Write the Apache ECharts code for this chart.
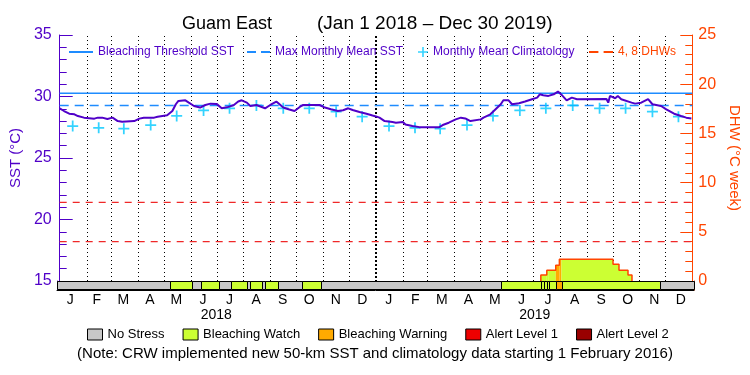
<!DOCTYPE html>
<html><head><meta charset="utf-8">
<script src="https://cdn.jsdelivr.net/npm/echarts@6/dist/echarts.min.js"></script>
<style>html,body{margin:0;padding:0;background:#fff}#c{width:750px;height:375px}</style>
</head><body><div id="c"></div>
<script>
// ---------- data ----------
const monthLabels = ['J','F','M','A','M','J','J','A','S','O','N','D','J','F','M','A','M','J','J','A','S','O','N','D'];
const yearLabels = ['2018','2019'];
const monthStartDays = [31,59,90,120,151,181,212,243,273,304,334,365,396,424,455,485,516,546,577,608,638,669,699];
const yearStartDay = 365;

const sstDays = [0,5,11,17,21,28,40,44,49,55,61,67,72,86,92,97,109,113,124,130,134,137,145,149,155,162,168,174,181,187,193,201,206,210,216,220,227,237,243,250,254,258,264,271,277,281,300,306,313,321,327,333,338,346,354,361,365,369,375,384,388,396,399,407,415,438,442,449,457,463,468,474,486,489,497,503,509,512,518,522,530,537,545,551,554,558,564,570,575,579,585,591,597,631,633,635,641,644,648,660,664,671,679,684,694,700,709,717,723,729];
const sstValues = [29.04,28.82,28.6,28.55,28.41,28.28,28.2,28.28,28.28,28.17,28.28,28.0,27.95,28.0,28.2,28.28,28.28,28.36,28.47,28.82,29.37,29.64,29.69,29.5,29.23,29.1,29.31,29.42,29.4,29.04,29.12,29.31,29.59,29.69,29.5,29.23,29.31,29.04,29.31,29.59,29.35,29.1,28.96,28.82,29.15,29.31,29.31,29.1,28.96,28.82,28.88,29.04,28.9,28.74,28.6,28.45,28.38,28.28,28.0,27.92,27.87,27.92,27.73,27.6,27.51,27.51,27.68,27.87,28.14,28.28,28.22,28.0,28.14,28.28,28.55,28.96,29.37,29.69,29.69,29.37,29.45,29.59,29.78,29.91,30.18,30.1,30.05,30.18,30.4,30.15,29.69,29.91,29.78,29.8,29.5,30.05,29.86,30.05,29.78,29.5,29.42,29.5,29.78,29.37,29.23,28.96,28.6,28.41,28.28,28.22];

const climDays = [15,45,74,105,135,166,196,227,258,288,319,349,380,410,439,470,500,531,561,592,623,653,684,714];
const climValues = [27.6,27.45,27.38,27.68,28.42,28.87,29.04,29.27,29.04,29.04,28.77,28.36,27.6,27.45,27.38,27.68,28.42,28.87,29.04,29.27,29.04,29.04,28.77,28.36];

const bleachingThreshold = 30.27;
const maxMonthlyMean = 29.27;
const dhwLevels = [4, 8];

const dhwStepStart = [555.2, 562.1, 572.4, 576.6, 638.5, 645.4, 655.8];
const dhwStepEnd   = [562.1, 572.4, 576.6, 638.5, 645.4, 655.8, 660.4];
const dhwStepValue = [0.6, 1.1, 1.6, 2.2, 1.7, 1.1, 0.6];

const stressStart = [0,129,154.7,165,185.2,199.4,217.8,220.7,235,238,252.9,280.9,302.7,509.3,555.2,557.7,562.1,564.4,572.4,579,691.3];
const stressEnd   = [129,154.7,165,185.2,199.4,217.8,220.7,235,238,252.9,280.9,302.7,509.3,555.2,557.7,562.1,564.4,572.4,579,691.3,730];
const stressLevel = [0,1,0,1,0,1,0,1,0,1,0,1,0,1,1,1,1,1,2,1,0];

const levelNames = ['No Stress','Bleaching Watch','Bleaching Warning','Alert Level 1','Alert Level 2'];
const levelColors = ['#c8c8c8','#ccff33','#ffaa00','#ee0000','#990000'];

// ---------- styles ----------
const FONT = 'Liberation Sans';
const PURPLE = '#5000c8';
const ORANGE = '#ff4500';
const BLUE = '#1e8cff';
const CYAN = '#00c8ff';
const DHWRED = '#f02828';
const dashIcon = 'path://M0,0H9V2H0Z M14,0H23V2H14Z';
const solidIcon = 'path://M0,0H24V2H0Z';
const plusPath = 'path://M4.2,0H5.8V10H4.2Z M0,4.2H10V5.8H0Z';

// ---------- derived ----------
const sstData = sstDays.map((d, i) => [d, sstValues[i]]);
const climData = climDays.map((d, i) => [d, climValues[i]]);
const stressSegs = stressStart.map((s, i) => [s, stressEnd[i], stressLevel[i]]);

const dhwPieces = [];
dhwStepStart.forEach((s, i) => {
  const e = dhwStepEnd[i];
  stressSegs.forEach(seg => {
    const a = Math.max(s, seg[0]), b = Math.min(e, seg[1]);
    if (b > a) dhwPieces.push([a, b, dhwStepValue[i], seg[2]]);
  });
});
const dhwOutline = [[dhwStepStart[0], 0]];
dhwStepStart.forEach((s, i) => { dhwOutline.push([s, dhwStepValue[i]]); dhwOutline.push([dhwStepEnd[i], dhwStepValue[i]]); });
dhwOutline.push([dhwStepEnd[dhwStepEnd.length - 1], 0]);

const monthLineData = monthStartDays.map(d => [d, d === yearStartDay ? 1 : 0]);

const chart = echarts.init(document.getElementById('c'), null, { renderer: 'canvas' });

const stressSeries = levelNames.map((name, li) => ({
  type: 'custom', name, xAxisIndex: 1, yAxisIndex: 2,
  itemStyle: { color: levelColors[li], borderColor: '#000', borderWidth: 1 },
  encode: { x: [0, 1] },
  data: stressSegs.filter(s => s[2] === li),
  renderItem: (params, api) => {
    const p0 = api.coord([api.value(0), 1]);
    const p1 = api.coord([api.value(1), 0]);
    const x0 = Math.round(p0[0]) + 0.5, x1 = Math.round(p1[0]) + 0.5;
    const y0 = Math.round(p0[1]) + 0.5, y1 = Math.round(p1[1]) - 0.5;
    return { type: 'rect', shape: { x: x0, y: y0, width: x1 - x0, height: y1 - y0 },
      style: { fill: levelColors[li], stroke: '#000', lineWidth: 1 } };
  }
}));

const txt = (color, size) => ({ color, fontSize: size, fontFamily: FONT });
const titleStyle = (size) => ({ color: '#000', fontSize: size, fontWeight: 'normal', fontFamily: FONT });

const option = {
  animation: false,
  backgroundColor: '#fff',
  title: [
    { text: 'Guam East', left: 182, top: 15, padding: 0, textStyle: titleStyle(18) },
    { text: '(Jan 1 2018 \u2013 Dec 30 2019)', left: 317, top: 14, padding: 0, textStyle: titleStyle(19) },
    { text: '(Note: CRW implemented new 50-km SST and climatology data starting 1 February 2016)', left: 'center', top: 346, padding: 0, textStyle: titleStyle(15) }
  ],
  legend: [
    { data: [{ name: 'Bleaching Threshold SST', icon: solidIcon }], left: 69, top: 46, padding: 0, itemWidth: 24, itemHeight: 2, symbolKeepAspect: false, selectedMode: false, textStyle: txt(PURPLE, 12) },
    { data: [{ name: 'Max Monthly Mean SST', icon: dashIcon }], left: 247, top: 46, padding: 0, itemWidth: 23, itemHeight: 2, symbolKeepAspect: false, selectedMode: false, textStyle: txt(PURPLE, 12) },
    { data: [{ name: 'Monthly Mean Climatology', icon: plusPath }], left: 418, top: 46, padding: 0, itemWidth: 10, itemHeight: 10, symbolKeepAspect: false, selectedMode: false, textStyle: txt(PURPLE, 12) },
    { data: [{ name: '4, 8 DHWs', icon: dashIcon }], left: 589, top: 46, padding: 0, itemWidth: 24, itemHeight: 2, symbolKeepAspect: false, selectedMode: false, textStyle: txt(ORANGE, 12) },
    { data: levelNames.map(n => ({ name: n, icon: 'rect' })), left: 87, top: 328, padding: 0, itemWidth: 15, itemHeight: 11, itemGap: 18, selectedMode: false,
      itemStyle: { borderColor: '#000', borderWidth: 1 }, textStyle: txt('#000', 13) }
  ],
  grid: [
    { left: 57, right: 56, top: 35, bottom: 94 },
    { left: 57, right: 56, top: 281, height: 9 }
  ],
  xAxis: [
    { type: 'value', gridIndex: 0, min: 0, max: 730, position: 'top',
      axisLine: { show: true, lineStyle: { color: '#000', width: 1 } }, axisTick: { show: false }, axisLabel: { show: false }, splitLine: { show: false } },
    { type: 'value', gridIndex: 1, min: 0, max: 730, position: 'bottom',
      axisLine: { show: true, lineStyle: { color: '#000', width: 1 } }, axisTick: { show: false }, axisLabel: { show: false }, splitLine: { show: false } },
    { type: 'category', gridIndex: 1, data: monthLabels, position: 'bottom', boundaryGap: true,
      axisLine: { show: false }, axisTick: { show: false }, splitLine: { show: false },
      axisLabel: { interval: 0, margin: 3, ...txt('#000', 14) } },
    { type: 'category', gridIndex: 1, data: yearLabels, position: 'bottom', offset: 15, boundaryGap: true,
      axisLine: { show: false }, axisTick: { show: false }, splitLine: { show: false },
      axisLabel: { interval: 0, margin: 3, ...txt('#000', 14) } }
  ],
  yAxis: [
    { type: 'value', gridIndex: 0, min: 15, max: 35, interval: 5, position: 'left',
      axisLine: { show: true, lineStyle: { color: PURPLE, width: 1 } },
      axisTick: { show: true, inside: true, length: 13, lineStyle: { color: PURPLE } },
      minorTick: { show: true, splitNumber: 5, length: 7, lineStyle: { color: PURPLE } },
      axisLabel: { margin: 8, ...txt(PURPLE, 16) }, splitLine: { show: false },
      name: 'SST (°C)', nameLocation: 'middle', nameGap: 32, nameTextStyle: txt(PURPLE, 15) },
    { type: 'value', gridIndex: 0, min: 0, max: 25, interval: 5, position: 'right',
      axisLine: { show: true, lineStyle: { color: ORANGE, width: 1 } },
      axisTick: { show: true, inside: true, length: 12, lineStyle: { color: ORANGE } },
      minorTick: { show: true, splitNumber: 5, length: 7, lineStyle: { color: ORANGE } },
      axisLabel: { margin: 6, ...txt(ORANGE, 16) }, splitLine: { show: false },
      name: 'DHW (°C week)', nameLocation: 'middle', nameGap: 34, nameRotate: -90, nameTextStyle: txt(ORANGE, 15) },
    { type: 'value', gridIndex: 1, min: 0, max: 1, position: 'left',
      axisLine: { show: true, lineStyle: { color: PURPLE } }, axisTick: { show: false }, axisLabel: { show: false }, splitLine: { show: false } },
    { type: 'value', gridIndex: 1, min: 0, max: 1, position: 'right',
      axisLine: { show: true, lineStyle: { color: ORANGE } }, axisTick: { show: false }, axisLabel: { show: false }, splitLine: { show: false } }
  ],
  series: [
    { type: 'custom', name: 'month lines', xAxisIndex: 0, yAxisIndex: 0, encode: { x: 0 }, data: monthLineData, z: 0, silent: true,
      renderItem: (params, api) => {
        const top = api.coord([api.value(0), 35]);
        const bot = api.coord([api.value(0), 15]);
        const wide = api.value(1) === 1;
        const x = wide ? Math.round(top[0]) : Math.round(top[0]) + 0.5;
        return { type: 'line', shape: { x1: x, y1: Math.round(top[1]) + 1, x2: x, y2: Math.round(bot[1]) },
          style: { stroke: '#000', lineWidth: wide ? 2 : 1, lineDash: wide ? [2, 2] : [1, 3] } };
      } },
    { type: 'custom', name: 'DHW fill', xAxisIndex: 0, yAxisIndex: 1, encode: { x: [0, 1], y: 2 }, data: dhwPieces, z: 1,
      renderItem: (params, api) => {
        const p0 = api.coord([api.value(0), api.value(2)]);
        const p1 = api.coord([api.value(1), 0]);
        return { type: 'rect', shape: { x: p0[0], y: p0[1], width: p1[0] - p0[0], height: p1[1] - p0[1] },
          style: { fill: levelColors[api.value(3)] } };
      } },
    { type: 'line', name: 'DHW', xAxisIndex: 0, yAxisIndex: 1, data: dhwOutline, symbol: 'none', z: 2,
      lineStyle: { color: ORANGE, width: 1.5 }, itemStyle: { color: ORANGE } },
    { type: 'line', name: 'Bleaching Threshold SST', xAxisIndex: 0, yAxisIndex: 0, data: [[0, bleachingThreshold], [730, bleachingThreshold]], symbol: 'none', z: 3,
      lineStyle: { color: BLUE, width: 1.5 }, itemStyle: { color: BLUE } },
    { type: 'line', name: 'Max Monthly Mean SST', xAxisIndex: 0, yAxisIndex: 0, data: [[0, maxMonthlyMean], [730, maxMonthlyMean]], symbol: 'none', z: 3,
      lineStyle: { color: BLUE, width: 1.5, type: [9, 6] }, itemStyle: { color: BLUE } },
    { type: 'line', name: '4, 8 DHWs', xAxisIndex: 0, yAxisIndex: 1, data: [[0, dhwLevels[0]], [730, dhwLevels[0]]], symbol: 'none', z: 3,
      lineStyle: { color: DHWRED, width: 1.2, type: [7, 6] }, itemStyle: { color: ORANGE } },
    { type: 'line', name: '4, 8 DHWs', xAxisIndex: 0, yAxisIndex: 1, data: [[0, dhwLevels[1]], [730, dhwLevels[1]]], symbol: 'none', z: 3,
      lineStyle: { color: DHWRED, width: 1.2, type: [7, 6] }, itemStyle: { color: ORANGE } },
    { type: 'scatter', name: 'Monthly Mean Climatology', xAxisIndex: 0, yAxisIndex: 0, data: climData, symbol: plusPath, symbolSize: 11, z: 4,
      itemStyle: { color: CYAN } },
    { type: 'line', name: 'SST', xAxisIndex: 0, yAxisIndex: 0, data: sstData, symbol: 'none', z: 5,
      lineStyle: { color: PURPLE, width: 2 }, itemStyle: { color: PURPLE } },
    ...stressSeries
  ]
};
chart.setOption(option);
</script>
</body></html>
